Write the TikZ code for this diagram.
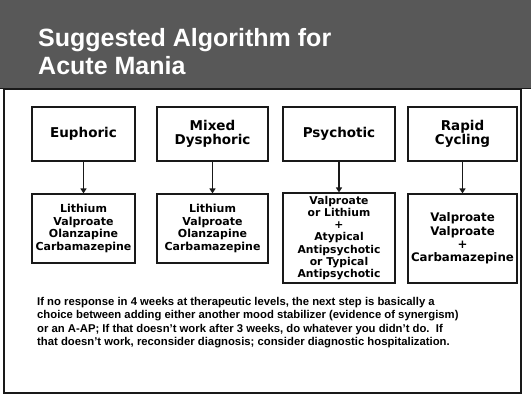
\documentclass[tikz,border=0pt]{standalone}
\usepackage{fontspec}
\setmainfont{Liberation Sans}
\newfontfamily\boxfont{DejaVu Sans}
\usetikzlibrary{arrows.meta, positioning}
\definecolor{bannergray}{RGB}{88,88,88}
\definecolor{mydark}{RGB}{25,25,25}
\tikzset{
  headbox/.style={rectangle, draw=mydark, line width=1.1pt,
    minimum height=54pt, align=center, inner sep=2pt,
    font=\boxfont\bfseries\fontsize{13.5}{14.5}\selectfont},
  drugbox/.style={rectangle, draw=mydark, line width=1.1pt,
    align=center, inner sep=1pt,
    font=\boxfont\bfseries\fontsize{11}{12.6}\selectfont},
  arrow/.style={line width=1.6pt, color=mydark,
    -{Triangle[length=5pt, width=6pt]}},
  titletext/.style={anchor=base west, inner sep=0, text=white,
    font=\bfseries\fontsize{25}{29}\selectfont}
}

\begin{document}
\begin{tikzpicture}[x=1pt, y=-1pt]
  \useasboundingbox (0,0) rectangle (531,395);
  % banner and panel
  \fill[bannergray] (0,0) rectangle (531,88);
  \draw[line width=1.5pt, mydark] (0,88.5) -- (531,88.5);
  \draw[line width=1.2pt, mydark] (4,89) rectangle (521,393);

  \node[titletext] (title1) at (38,47) {Suggested Algorithm for};
  \node[titletext] (title2) at (38,75) {Acute Mania};

  % presentations
  \node[headbox, minimum width=103pt] (E) at (83.5,134) {Euphoric};
  \node[headbox, minimum width=111pt] (M) at (212.5,134) {Mixed\\Dysphoric};
  \node[headbox, minimum width=112pt] (P) at (339,134) {Psychotic};
  \node[headbox, minimum width=109pt] (R) at (462.5,134) {Rapid\\Cycling};

  % treatments
  \node[drugbox, minimum width=103pt, minimum height=69pt] (E2) at (83.5,228.5)
    {Lithium\\Valproate\\Olanzapine\\Carbamazepine};
  \node[drugbox, minimum width=111pt, minimum height=69pt] (M2) at (212.5,228.5)
    {Lithium\\Valproate\\Olanzapine\\Carbamazepine};
  \node[drugbox, minimum width=112pt, minimum height=90pt,
    font=\boxfont\bfseries\fontsize{10.8}{12.2}\selectfont] (P2) at (339,238)
    {Valproate\\or Lithium\\+\\Atypical\\Antipsychotic\\or Typical\\Antipsychotic};
  \node[drugbox, minimum width=109pt, minimum height=89pt,
    font=\boxfont\bfseries\fontsize{11.8}{13.2}\selectfont] (R2) at (462.5,238.5)
    {Valproate\\Valproate\\+\\Carbamazepine};

  \draw[arrow] (E) -- (E2);
  \draw[arrow] (M) -- (M2);
  \draw[arrow] (P) -- (P2);
  \draw[arrow] (R) -- (R2);

  \node[anchor=north west, align=left, inner sep=0,
    font=\bfseries\fontsize{11.3}{13.4}\selectfont] (note) at (37,297)
    {If no response in 4 weeks at therapeutic levels, the next step is basically a\\
     choice between adding either another mood stabilizer (evidence of synergism)\\
     or an A-AP; If that doesn't work after 3 weeks, do whatever you didn't do.~~If\\
     that doesn't work, reconsider diagnosis; consider diagnostic hospitalization.};
\end{tikzpicture}
\end{document}
